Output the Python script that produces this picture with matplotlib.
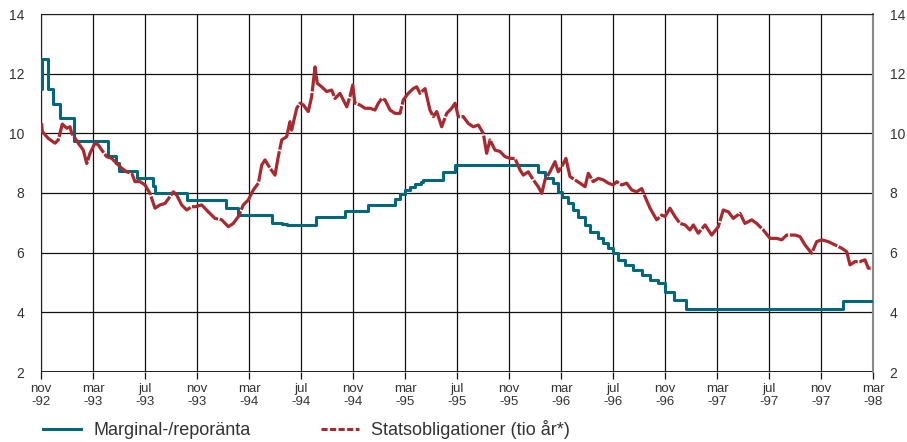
import matplotlib.pyplot as plt
from matplotlib.lines import Line2D

# months counted from nov-92
tick_labels = ["nov\n-92", "mar\n-93", "jul\n-93", "nov\n-93", "mar\n-94", "jul\n-94",
               "nov\n-94", "mar\n-95", "jul\n-95", "nov\n-95", "mar\n-96", "jul\n-96",
               "nov\n-96", "mar\n-97", "jul\n-97", "nov\n-97", "mar\n-98"]
tick_pos = [4 * i for i in range(len(tick_labels))]

# Marginal-/reporänta, step changes (month, rate)
repo_m = [0, 0.08, 0.54, 0.92, 1.46, 2.54, 5.15, 5.77, 6.0, 7.38, 8.6, 8.77, 11.23, 14.23,
          15.15, 17.77, 18.54, 18.92, 21.15, 23.4, 25.15, 27.2, 27.6, 28.0, 28.4, 28.8, 29.2,
          29.4, 30.92, 31.85, 38.25, 38.77, 39.41, 39.79, 40.05, 40.54, 40.92, 41.31, 41.85,
          42.23, 42.85, 43.23, 43.62, 44.0, 44.38, 44.92, 45.54, 46.23, 46.85, 47.46, 48.0,
          48.7, 49.6, 61.71, 63.82]
repo_v = [11.5, 12.5, 11.5, 11.0, 10.5, 9.75, 9.25, 9.0, 8.75, 8.5, 8.25, 8.0, 7.75, 7.5,
          7.25, 7.0, 6.95, 6.92, 7.2, 7.38, 7.6, 7.8, 7.95, 8.1, 8.2, 8.3, 8.38,
          8.43, 8.7, 8.93, 8.71, 8.49, 8.33, 8.04, 7.88, 7.65, 7.43, 7.21, 6.93,
          6.7, 6.48, 6.31, 6.15, 5.98, 5.76, 5.59, 5.42, 5.25, 5.08, 4.97, 4.69,
          4.4, 4.1, 4.38, 4.38]

# Statsobligationer (tio år)
bond_m = [0.05, 0.10, 0.56, 1.08, 1.33, 1.64, 1.98, 2.23, 2.36, 2.87, 3.25, 3.52, 3.77, 4.15,
          4.41, 4.67, 5.05, 5.44, 5.82, 6.21, 6.59, 6.98, 7.23, 7.62, 8.0, 8.38, 8.77, 9.15,
          9.54, 9.92, 10.18, 10.44, 10.82, 11.21, 11.59, 11.85, 12.36, 12.87, 13.38, 13.9,
          14.41, 14.79, 15.18, 15.56, 15.95, 16.33, 16.72, 16.98, 17.23, 17.62, 18.0, 18.25,
          18.52, 18.9, 19.15, 19.28, 19.67, 19.92, 20.18, 20.56, 20.82, 21.08, 21.25, 21.59,
          21.98, 22.36, 22.62, 23.0, 23.25, 23.52, 23.77, 23.98, 24.15, 24.54, 24.92, 25.31,
          25.69, 25.95, 26.21, 26.46, 26.85, 27.23, 27.62, 27.87, 28.25, 28.64, 28.9, 29.15,
          29.54, 29.92, 30.18, 30.44, 30.82, 31.21, 31.59, 31.85, 32.1, 32.48, 32.87, 33.25,
          33.64, 34.02, 34.28, 34.54, 34.92, 35.31, 35.69, 36.08, 36.46, 36.85, 37.1, 37.48,
          37.87, 38.25, 38.52, 38.77, 39.15, 39.54, 39.79, 40.05, 40.38, 40.69, 41.08, 41.46,
          41.85, 42.1, 42.48, 42.87, 43.25, 43.64, 44.02, 44.28, 44.67, 45.05, 45.44, 45.82,
          46.21, 46.46, 46.85, 47.36, 47.75, 48.0, 48.38, 48.77, 49.15, 49.54, 49.92, 50.18,
          50.56, 51.08, 51.59, 52.1, 52.48, 52.87, 53.25, 53.77, 54.15, 54.67, 55.05, 55.56,
          56.08, 56.59, 56.98, 57.36, 58.0, 58.38, 58.77, 59.28, 59.67, 60.05, 60.56, 61.08,
          61.59, 61.98, 62.23, 62.62, 63.0, 63.38, 63.64, 63.82]
bond_v = [10.34, 10.06, 9.83, 9.67, 9.78, 10.31, 10.17, 10.22, 10.0, 9.67, 9.44, 8.99, 9.33, 9.67,
          9.61, 9.44, 9.22, 9.16, 8.99, 8.83, 8.71, 8.66, 8.38, 8.38, 8.27, 7.99, 7.49, 7.6,
          7.65, 7.88, 8.04, 7.93, 7.6, 7.43, 7.54, 7.54, 7.6, 7.37, 7.15, 7.1,
          6.87, 6.98, 7.21, 7.6, 7.77, 8.1, 8.33, 8.94, 9.11, 8.83, 8.6, 9.22,
          9.78, 9.89, 10.39, 10.11, 10.84, 11.01, 10.95, 10.73, 11.23, 12.23, 11.68, 11.56,
          11.4, 11.45, 11.17, 11.34, 11.12, 10.89, 11.23, 11.62, 11.01, 10.95, 10.84, 10.84,
          10.78, 11.01, 11.17, 11.12, 10.78, 10.67, 10.67, 11.12, 11.34, 11.5, 11.56, 11.34,
          11.5, 10.78, 10.56, 10.73, 10.22, 10.67, 10.84, 11.01, 10.56, 10.56, 10.33, 10.22,
          10.28, 10.0, 9.33, 9.78, 9.44, 9.39, 9.22, 9.16, 9.16, 8.77, 8.6, 8.71,
          8.44, 8.21, 7.99, 8.44, 8.71, 9.05, 8.71, 8.88, 9.16, 8.55, 8.44, 8.33,
          8.21, 8.66, 8.38, 8.49, 8.44, 8.33, 8.27, 8.38, 8.27, 8.33, 8.1, 8.04,
          8.15, 7.88, 7.49, 7.1, 7.26, 7.21, 7.49, 7.21, 6.98, 6.93, 6.76, 6.93,
          6.65, 6.93, 6.59, 6.87, 7.43, 7.37, 7.15, 7.32, 6.98, 7.1, 6.98, 6.76,
          6.48, 6.48, 6.43, 6.59, 6.59, 6.54, 6.26, 5.98, 6.37, 6.43, 6.37, 6.26,
          6.15, 6.03, 5.59, 5.7, 5.7, 5.76, 5.48, 5.48]

teal = "#00687A"
red = "#A8292F"
txt = "#333333"

plt.rcParams['font.family'] = ['Liberation Sans', 'DejaVu Sans']

fig = plt.figure(figsize=(9.07, 4.42), dpi=100)
ax = fig.add_axes([41 / 907, 1 - 372 / 442, 832 / 907, 358 / 442])

ax.plot(repo_m, repo_v, color=teal, lw=2.2, drawstyle='steps-post', zorder=3)
ax.plot(bond_m, bond_v, color=red, lw=2.3, dashes=(10, 0.5), zorder=4)

ax.set_xlim(0, 64)
ax.set_ylim(2, 14)
ax.set_xticks(tick_pos)
ax.set_xticklabels(tick_labels, color=txt, fontsize=9.5, linespacing=1.1)
ax.set_yticks(range(2, 15, 2))
ax.grid(True, color='#111111', lw=0.9)
ax.axhline(2, color='#111111', lw=2, zorder=2)

ax.tick_params(axis='x', length=5, width=0.9, color='#111111', pad=3)
ax.tick_params(axis='y', length=0, labelsize=10, labelcolor=txt, pad=12,
               labelright=True, right=True)
for s in ['left', 'top']:
    ax.spines[s].set_color('#222222')
ax.spines['right'].set_color('#888888')
ax.spines['right'].set_linewidth(1.5)
ax.spines['bottom'].set_visible(False)

handles = [Line2D([], [], color=teal, lw=2.2),
           Line2D([], [], color=red, lw=2.2, dashes=(2.0, 0.8))]
fig.legend(handles, ["Marginal-/reporänta", "Statsobligationer (tio år*)"],
           loc='lower left', bbox_to_anchor=(40 / 907, 0.0), ncol=2, frameon=False,
           fontsize=13, handlelength=2.1, handletextpad=0.7, columnspacing=3.9,
           borderpad=0.15, borderaxespad=0, labelcolor=txt)

fig.savefig("out.png", dpi=100)
